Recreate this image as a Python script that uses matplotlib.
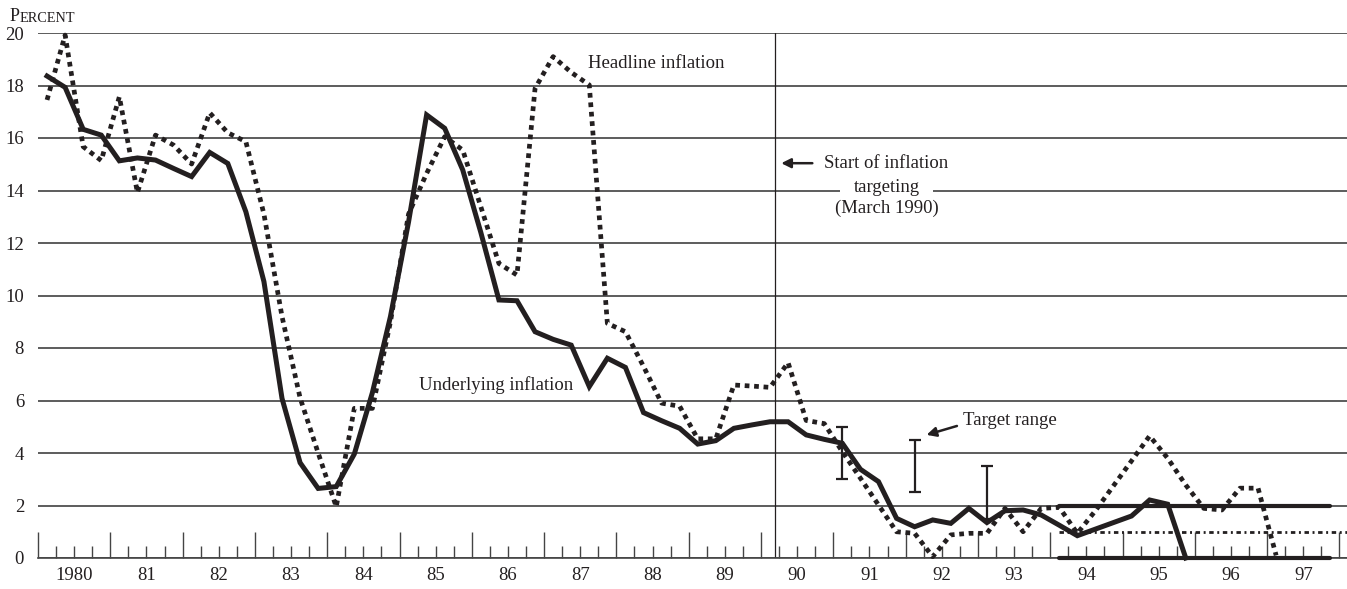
import numpy as np
import matplotlib.pyplot as plt

plt.rcParams['font.family'] = ['Liberation Serif', 'DejaVu Serif']
INK = '#231f20'
GRID = '#5c5c5c'

# quarterly series, 1980Q1 onwards (percent)
underlying = [18.36, 17.93, 16.33, 16.11, 15.13, 15.24, 15.16, 14.84,
              14.53, 15.45, 15.03, 13.19, 10.53, 6.08, 3.63, 2.65,
              2.72, 3.96, 6.3, 9.2, 12.8, 16.88, 16.37, 14.78,
              12.4, 9.83, 9.80, 8.62, 8.33, 8.11, 6.53, 7.61,
              7.26, 5.54, 5.23, 4.94, 4.34, 4.47, 4.94, 5.07,
              5.19, 5.19, 4.69, 4.52, 4.37, 3.38, 2.91, 1.51,
              1.19, 1.45, 1.32, 1.89, 1.35, 1.80, 1.83, 1.64,
              1.25, 0.85, 1.1, 1.35, 1.6, 2.21, 2.05, 0.0]
headline = [17.45, 19.92, 15.67, 15.14, 17.57, 13.92, 16.11, 15.73,
            15.01, 16.96, 16.20, 15.86, 13.1, 9.2, 6.1, 4.0,
            1.95, 5.7, 5.7, 9.0, 13.1, 14.65, 16.05, 15.54,
            13.38, 11.22, 10.78, 17.89, 19.10, 18.5, 18.02, 8.94,
            8.62, 7.3, 5.9, 5.78, 4.54, 4.54, 6.59, 6.55,
            6.50, 7.44, 5.24, 5.12, 4.05, 3.04, 2.02, 1.0,
            0.94, 0.05, 0.88, 0.94, 0.94, 1.89, 1.0, 1.89,
            1.93, 0.94, 1.8, 2.75, 3.7, 4.65, 3.8, 2.78,
            1.89, 1.83, 2.66, 2.66, 0.1]

# target ranges announced before the 0-2 band
target_x = [1991.125, 1992.125, 1993.125]
target_low = [3.0, 2.5, 1.5]
target_high = [5.0, 4.5, 3.5]
band_start, band_end = 1994.125, 1997.875
band_low, band_mid, band_high = 0, 1, 2
start_targeting = 1990.2

years = list(range(1980, 1998))
year_labels = ['1980'] + ['%02d' % (y % 100) for y in years[1:]]

t_u = 1980 + (np.arange(len(underlying)) + 0.5) / 4
t_h = 1980 + (np.arange(len(headline)) + 0.5) / 4

fig = plt.figure(figsize=(13.47, 5.89), dpi=100)
ax = fig.add_axes([38 / 1347, 31 / 589, 1309 / 1347, 525 / 589])
ax.set_xlim(1980, 1980 + 1309 / 72.3)
ax.set_ylim(0, 20)

for s in ['top', 'right', 'left']:
    ax.spines[s].set_visible(False)
ax.spines['bottom'].set_color('#444444')
ax.spines['bottom'].set_linewidth(1.2)

ax.set_yticks(range(0, 21, 2))
ax.yaxis.grid(True, color=GRID, lw=1.4)
ax.set_axisbelow(True)
ax.tick_params(axis='y', length=0, pad=10, labelsize=13.5, labelcolor=INK)

ax.set_xticks(range(1980, 1999))
ax.set_xticks(np.arange(1980, 1998.01, 0.25), minor=True)
ax.tick_params(axis='x', which='major', direction='in', length=18.7, width=1.0,
               color='#444444', labelbottom=False)
ax.tick_params(axis='x', which='minor', direction='in', length=9, width=1.0,
               color='#444444')
for y, lab in zip(years, year_labels):
    ax.text(y + 0.5, -0.68, lab, ha='center', va='center', fontsize=13.5,
            color=INK, clip_on=False)

ax.axvline(start_targeting, color=INK, lw=0.9, zorder=2)

# target band
ax.plot([band_start, band_end], [band_high, band_high], color=INK, lw=3,
        solid_capstyle='round', zorder=3, clip_on=False)
ax.plot([band_start, band_end], [band_low, band_low], color=INK, lw=3,
        solid_capstyle='round', zorder=3, clip_on=False)
ax.plot([band_start, 1998.1], [band_mid, band_mid], color=INK, lw=2,
        linestyle=(0, (1.6, 1.3, 0.7, 1.3)), zorder=3)

mid = (np.array(target_low) + np.array(target_high)) / 2
half = (np.array(target_high) - np.array(target_low)) / 2
ax.errorbar(target_x, mid, yerr=half, fmt='none', ecolor=INK, elinewidth=1.6,
            capsize=4, capthick=1.6, zorder=4)

ax.plot(t_h, headline, color=INK, lw=3.4, linestyle=(0, (1.0, 1.0)),
        dash_capstyle='butt', zorder=5, clip_on=False)
ax.plot(t_u, underlying, color=INK, lw=3.6, solid_joinstyle='miter',
        zorder=6, clip_on=False)

fs = 13.5
ax.text(1987.61, 18.68, 'Headline inflation', fontsize=fs, color=INK, va='baseline')
ax.text(1985.27, 6.4, 'Underlying inflation', fontsize=fs, color=INK, va='baseline')
ax.text(1991.735, 14.86, 'Start of inflation', fontsize=fs, color=INK,
        ha='center', va='baseline', zorder=8)
ax.text(1991.735, 13.94, 'targeting', fontsize=fs, color=INK, ha='center',
        va='baseline', zorder=7,
        bbox=dict(facecolor='white', edgecolor='none', pad=10))
ax.text(1991.735, 13.14, '(March 1990)', fontsize=fs, color=INK,
        ha='center', va='baseline', zorder=8)
ax.annotate('', xy=(1990.28, 15.04), xytext=(1990.71, 15.04),
            arrowprops=dict(arrowstyle='-|>', color=INK, lw=1.8,
                            mutation_scale=14, shrinkA=0, shrinkB=0), zorder=8)

ax.text(1992.8, 5.07, 'Target range', fontsize=fs, color=INK, va='baseline')
ax.annotate('', xy=(1992.29, 4.69), xytext=(1992.71, 5.03),
            arrowprops=dict(arrowstyle='-|>', color=INK, lw=1.8,
                            mutation_scale=14, shrinkA=0, shrinkB=0))

p = fig.text(10 / 1347, 1 - 21 / 589, 'P', fontsize=13, color=INK, va='baseline')
ax.annotate('ERCENT', xy=(1, 0), xycoords=p, va='bottom', ha='left',
            fontsize=10.3, color=INK, annotation_clip=False)

fig.savefig('out.png', dpi=100)
